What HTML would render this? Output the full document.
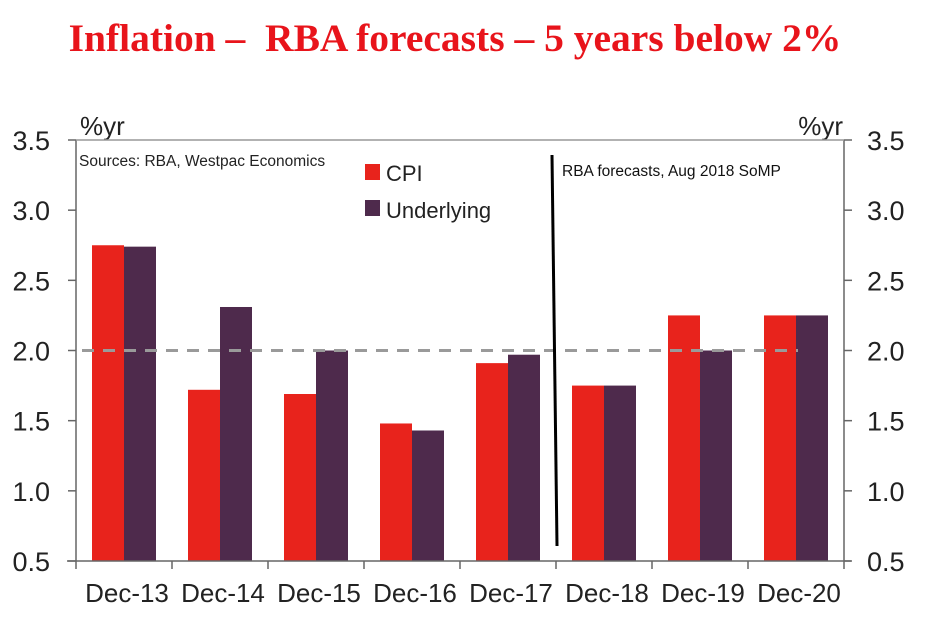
<!DOCTYPE html>
<html><head><meta charset="utf-8"><style>
body{margin:0;background:#fff;width:929px;height:632px;overflow:hidden}
svg{display:block;font-family:"Liberation Sans",Arial,sans-serif}
</style></head><body>
<svg id="chart" width="929" height="632">
<text x="455" y="51" text-anchor="middle" font-family="Liberation Serif,serif" font-weight="bold" font-size="39.5" fill="#e8141b" xml:space="preserve" style="white-space:pre">Inflation –  RBA forecasts – 5 years below 2%</text>
<text x="80" y="135" font-size="26" fill="#222">%yr</text>
<text x="843" y="135" font-size="26" fill="#222" text-anchor="end">%yr</text>
<text x="79" y="166" font-size="15.5" fill="#222">Sources: RBA, Westpac Economics</text>
<text x="562" y="176" font-size="15.5" fill="#111">RBA forecasts, Aug 2018 SoMP</text>
<rect x="365" y="164" width="15" height="16" fill="#e8231c"/>
<text x="386" y="181" font-size="22" fill="#222">CPI</text>
<rect x="365" y="200" width="15" height="16" fill="#4e2a4c"/>
<text x="386" y="218" font-size="22" fill="#222">Underlying</text>
<g id="bars"></g>
<g id="axes"></g>
</svg>
<script>
const categories=["Dec-13","Dec-14","Dec-15","Dec-16","Dec-17","Dec-18","Dec-19","Dec-20"];
const cpiValues=[2.75,1.72,1.69,1.48,1.91,1.75,2.25,2.25];
const underlyingValues=[2.74,2.31,2.0,1.43,1.97,1.75,2.0,2.25];
const yTicks=[0.5,1.0,1.5,2.0,2.5,3.0,3.5];
const targetValue=2.0;
const NS="http://www.w3.org/2000/svg";
const X0=76,X1=844,Y0=561,Y1=140,YMIN=0.5,YMAX=3.5;
const catW=(X1-X0)/categories.length;
function y(v){return Y0-(v-YMIN)/(YMAX-YMIN)*(Y0-Y1);}
function x(i){return X0+i*catW;}
function mk(tag,attrs,parent){const e=document.createElementNS(NS,tag);for(const k in attrs)e.setAttribute(k,attrs[k]);parent.appendChild(e);return e;}
const bars=document.getElementById('bars'),axes=document.getElementById('axes');
categories.forEach((c,i)=>{
 const r=mk('rect',{x:x(i)+16,y:y(cpiValues[i]),width:32,height:Y0-y(cpiValues[i]),fill:'#e8231c'},bars);
 
 
 const u=mk('rect',{x:x(i)+48,y:y(underlyingValues[i]),width:32,height:Y0-y(underlyingValues[i]),fill:'#4e2a4c'},bars);
 
 
 const t=mk('text',{x:x(i)+catW/2+3,y:602,'text-anchor':'middle','font-size':26,fill:'#222'},axes);
 t.textContent=c;
 
 
});
const dl=mk('line',{x1:82,x2:798,y1:y(targetValue),y2:y(targetValue),stroke:'#9a9a9a','stroke-width':3,'stroke-dasharray':'12 9'},bars);


const vl=mk('line',{x1:552,y1:155,x2:557,y2:546,stroke:'#000','stroke-width':3},bars);


mk('line',{x1:X0,x2:X0,y1:Y1,y2:Y0,stroke:'#666','stroke-width':1.5},axes);
mk('line',{x1:X1,x2:X1,y1:Y1,y2:Y0,stroke:'#666','stroke-width':1.5},axes);
mk('line',{x1:X0,x2:X1,y1:Y1,y2:Y1,stroke:'#999','stroke-width':1.5},axes);
mk('line',{x1:67,x2:851,y1:Y0,y2:Y0,stroke:'#666','stroke-width':1.5},axes);
for(let i=0;i<=categories.length;i++)mk('line',{x1:x(i),x2:x(i),y1:Y0,y2:Y0+8,stroke:'#666','stroke-width':1.5},axes);
yTicks.forEach(v=>{
 mk('line',{x1:X0-8,x2:X0,y1:y(v),y2:y(v),stroke:'#666','stroke-width':1.5},axes);
 mk('line',{x1:X1,x2:X1+8,y1:y(v),y2:y(v),stroke:'#666','stroke-width':1.5},axes);
 const l=mk('text',{x:50,y:y(v)+10,'text-anchor':'end','font-size':27,fill:'#222'},axes);
 l.textContent=v.toFixed(1);
 
 
 const r=mk('text',{x:867,y:y(v)+10,'font-size':27,fill:'#222'},axes);
 r.textContent=v.toFixed(1);
 
 
});
</script>
</body></html>
